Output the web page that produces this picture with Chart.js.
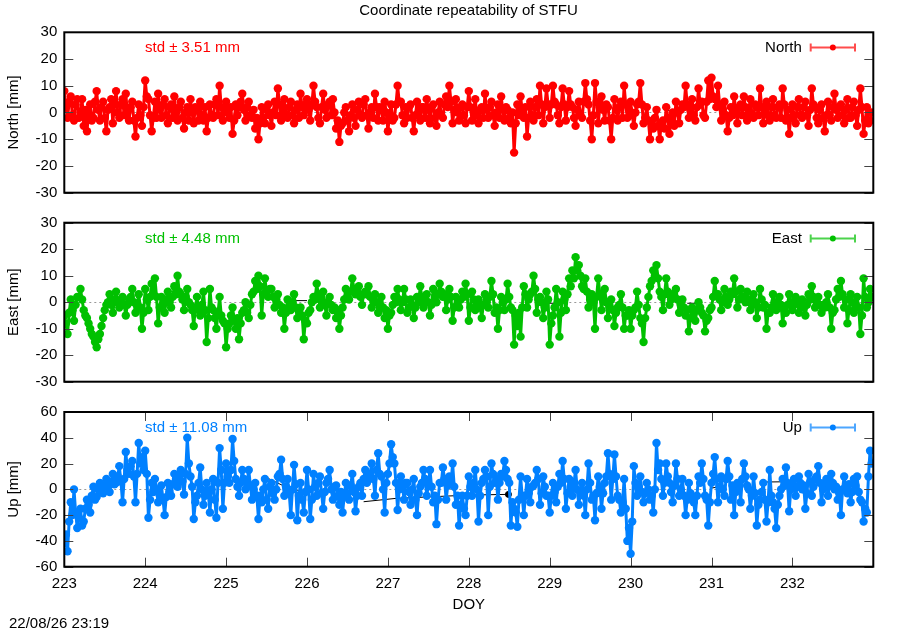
<!DOCTYPE html>
<html>
<head>
<meta charset="utf-8">
<title>Coordinate repeatability of STFU</title>
<script src="https://cdn.jsdelivr.net/npm/chart.js@4.4.1/dist/chart.umd.min.js"></script>
<style>
  body { margin: 0; background: #fff; }
  #wrap { position: relative; width: 900px; height: 630px; font-family: "Liberation Sans", Arial, sans-serif; font-size: 15px; color: #000; }
  #wrap canvas { position: absolute; left: 0; top: 0; }
  #title { position: absolute; left: 64px; width: 809px; top: 1px; text-align: center; line-height: 18px; }
  #stamp { position: absolute; left: 9px; top: 614px; line-height: 18px; }
</style>
</head>
<body>
<div id="wrap">
  <canvas id="north" width="900" height="630"></canvas>
  <canvas id="east" width="900" height="630"></canvas>
  <canvas id="up" width="900" height="630"></canvas>
  <div id="title">Coordinate repeatability of STFU</div>
  <div id="stamp">22/08/26 23:19</div>
</div>
<script>
// day of year for each row below; each row is one day of evenly spaced epochs
const days = [223, 224, 225, 226, 227, 228, 229, 230, 231, 232];
const stdMm = [3.51, 4.48, 11.08];

const northMm = [
  [8,2,-2,4,6,-1,-3,3,5,-2,0,5,-5,1,-7,-1,3,-3,-2,4,8,1,-3,2,4,-2,-7,1,2,5,-4,3,8,0,-2,3,5,-1,7,0,-3,2,4,-3,-9,-2,3,-1,-5,2],
  [12,6,5,-1,-7,-2,4,-2,7,1,-2,3,5,-1,-4,2,3,-2,6,0,-3,2,4,-2,-6,0,2,-3,5,0,-4,2,1,-3,4,-1,-3,2,-7,-2,3,-1,-2,3,5,-1,10,2,-3,1],
  [4,0,-2,2,-8,-3,3,-1,2,4,7,1,-3,2,4,-1,-2,1,-6,-2,-10,-4,2,-2,-4,1,3,-1,-5,0,4,-1,9,3,-3,1,5,-1,-2,2,4,-1,-4,1,3,-2,7,2,-1,3],
  [5,1,-3,3,10,4,2,-2,-4,2,7,1,-2,3,4,-1,5,0,-6,-3,-11,-5,-4,0,2,-3,-7,-1,3,-2,-5,1,4,-1,-2,3,5,-1,-6,0,2,-2,7,2,-3,2,1,-3,4,0],
  [-7,-1,3,-3,-2,3,10,4,4,-1,-4,2,-2,2,3,-2,-7,-1,4,0,-3,2,2,-2,5,1,-4,2,3,-2,-5,0,4,-1,-2,3,6,2,10,4,-4,1,5,0,-3,2,3,-1,-4,2],
  [8,2,-3,1,5,-1,-4,1,2,-2,7,1,-2,2,4,-1,-5,0,3,-2,6,1,-3,2,1,-2,-4,0,-15,-4,3,-1,6,1,-2,2,-9,-2,4,-1,-3,2,5,-1,10,3,-4,2,9,3],
  [-2,3,10,4,3,-1,-4,2,9,3,-3,2,8,3,2,-2,-5,1,4,-1,-2,4,11,5,3,-3,-10,-1,11,4,-4,2,6,1,-3,3,2,-3,-10,-2,5,1,-3,2,4,-2,10,3,-2,1],
  [4,-1,-5,0,3,4,11,3,-4,-2,2,-3,-10,-4,-6,-2,1,-5,-10,-4,-3,-6,2,-2,-8,-3,0,-5,4,0,-4,1,3,2,10,3,-2,1,5,-1,-3,2,9,3,4,-1,-2,4,12,5],
  [13,6,5,2,10,3,-3,1,4,-1,-7,-2,2,-1,6,1,-4,2,3,-1,6,2,-3,1,5,-1,-2,3,2,-1,9,2,-4,1,4,-1,-3,2,5,-1,-2,2,3,-2,9,3,-3,1,-8,-2],
  [3,-1,-4,2,5,-1,-2,2,4,-1,-5,1,9,3,2,-2,-4,1,3,-2,-7,-1,4,-1,-3,2,7,1,-2,2,3,-1,-4,1,5,-2,-2,2,4,-1,-5,1,9,2,-8,-3,2,-4,-3,0]
];

const eastMm = [
  [-5,-8,-12,-4,1,-3,-7,-1,2,2,5,1,-3,-5,-6,-8,-10,-12,-13,-15,-17,-14,-12,-9,-6,-3,-1,0,3,-1,-4,1,4,0,-2,1,2,-1,-5,-1,1,2,5,0,-4,-1,3,-2,-10,-4],
  [5,1,-3,2,7,3,9,2,-8,-2,2,-1,-4,1,4,0,-2,2,6,3,10,4,3,1,-3,2,5,0,-1,-3,-9,-2,2,-3,-5,-1,4,-3,-15,-6,5,-2,-3,-6,-10,-4,2,-5,-7,-8],
  [-17,-10,-8,-5,-2,-7,-10,-6,-14,-8,-4,-3,0,-4,-6,-1,3,4,8,5,10,6,-5,3,9,4,2,5,5,2,-2,1,3,-1,-4,-2,-10,-4,1,-3,-3,0,3,-2,-6,-3,-2,-5,-14,-7],
  [-8,-4,-3,0,2,1,7,3,-2,1,4,-1,-5,0,2,-1,-3,-2,-6,-3,-10,-5,-2,1,5,2,1,4,9,5,3,4,6,2,-1,3,4,3,6,2,-2,1,3,0,-4,-1,2,-2,-6,-3],
  [-10,-5,-4,-1,2,0,5,1,-3,0,5,1,-4,-2,1,-1,-6,-2,2,0,6,2,-2,1,3,0,-5,-1,5,2,0,3,7,4,2,3,-3,1,5,2,-7,-2,2,-1,-2,1,4,2,7,3],
  [-7,-2,4,1,-3,-1,1,-2,-6,-1,3,0,-2,2,8,3,-4,-2,-10,-3,2,0,-3,1,7,2,-2,-3,-16,-5,-9,-4,-13,-2,6,3,-2,1,3,4,10,5,-4,1,2,0,-6,-2,4,1],
  [-16,-8,-5,-2,5,0,-13,-4,4,1,-3,3,9,6,12,9,17,12,14,10,6,5,9,4,-2,1,3,0,-10,2,9,3,-3,1,5,0,-6,-2,1,-3,-9,-4,-2,-1,3,-2,-10,-5,-5,-3],
  [-10,-5,-3,-2,4,-1,-6,-8,-15,-6,-2,2,6,8,12,10,14,9,4,2,-3,3,9,4,-1,1,3,2,5,1,-4,-1,1,-2,-5,-3,-11,-6,-2,-4,-7,-3,0,-2,-4,-5,-11,-7,-6,-3],
  [-2,2,8,3,3,1,-3,0,5,2,-1,1,4,3,9,4,-2,1,5,2,1,0,4,1,-3,-1,3,0,-6,-2,5,1,-2,-1,-10,-4,-4,-2,3,0,-3,-1,2,-1,-8,-3,-4,-1,3,0],
  [-3,-1,2,0,-4,-1,1,-2,-5,-1,3,1,6,2,-2,0,2,-1,-4,-1,-2,0,3,-2,-10,-4,-3,1,5,2,8,3,-2,1,-8,-3,3,0,-4,-1,2,-2,-12,-5,9,2,-2,0,5,2]
];

const upMm = [
  [-42,-35,-48,-25,-10,-20,0,-18,-30,-22,-15,-28,-25,-15,-8,-12,-18,-5,2,-8,-6,0,5,-2,-3,3,8,2,-2,6,12,4,5,10,18,6,-10,8,29,15,12,18,22,10,-10,12,36,20,25,15],
  [30,12,-22,-8,5,-2,8,0,-10,-5,3,-8,-20,-6,5,-2,-5,4,12,8,2,10,15,6,-4,12,40,20,10,2,-23,-10,-5,5,17,0,-12,-5,5,-3,-18,0,8,-8,-22,5,32,15,-15,5],
  [20,10,5,15,39,22,8,2,-5,5,15,8,0,6,15,3,-8,0,5,-5,-23,-5,-10,0,8,-8,-15,2,5,-3,-8,0,10,12,23,8,-5,2,8,-3,-20,0,19,4,-24,-5,5,-8,-18,-2],
  [15,0,-23,-8,12,2,-5,5,10,-3,-15,-2,5,8,15,0,-8,2,3,-5,-12,-2,-18,-5,5,-3,-8,3,12,-2,-17,-5,2,5,-5,8,15,5,8,12,20,8,-5,15,28,12,10,0,-18,5],
  [12,20,35,25,20,5,-16,0,10,2,-8,5,5,-2,-12,0,8,-8,-20,-3,2,5,15,8,-5,3,15,2,-10,-5,-27,-8,5,5,17,8,-8,3,10,5,20,2,-12,-5,-28,-12,-5,-15,-20,-5],
  [10,2,-5,5,15,0,-25,-5,5,8,15,10,-20,2,20,12,5,8,-8,5,12,10,22,15,8,5,-28,-10,-15,-18,-29,-8,10,-5,-20,-5,8,-3,-10,2,3,5,15,8,-12,-3,10,2,-5,-5],
  [-18,-5,5,-2,-10,2,12,5,22,8,-15,-3,8,2,-5,5,15,0,-12,-2,5,-5,-20,0,20,5,-8,-5,-24,-3,10,2,-15,-3,5,10,28,12,-8,8,27,10,-5,-8,-18,-10,8,-15,-40,-30],
  [-50,-25,18,5,-5,2,10,-2,-10,-3,5,0,-8,-5,-18,0,36,15,20,8,-5,5,20,10,5,-2,-10,3,20,8,-5,0,8,-5,-20,-8,5,-3,-8,-10,-20,-5,10,5,20,8,-5,-8,-28,-10],
  [5,12,25,8,-10,2,10,0,-5,8,22,10,-8,3,-20,-2,5,5,-10,8,20,10,3,0,-15,-5,10,-3,-28,-12,-8,-2,5,-8,-25,-10,15,-5,-10,-15,-30,-12,-5,0,8,3,17,5,-17,0],
  [5,8,-5,2,10,5,0,3,-15,-3,12,6,-5,2,8,10,18,5,-10,0,5,8,-5,3,12,5,0,2,-8,-3,-20,0,10,2,-3,4,-10,-2,8,3,10,-2,-8,-10,-25,-15,-18,10,30,20]
];

// thin black reference track, mostly hidden under the coloured series (null = gap)
const northRefDoy = [228.2, 228.3, 228.4, 230.45, 230.55];
const northRefMm = [1, 1, null, 1, 0];
const eastRefDoy = [225.8, 226.0, 226.1, 228.84, 229.17, 229.3, 230.7, 230.85];
const eastRefMm = [0.6, 0.6, null, -0.4, -0.4, null, -0.4, -0.4];
const upRefDoy = [225.52, 225.7, 225.9, 226.05, 226.3, 226.7, 227.1, 228.02, 228.49, 228.6, 231.0, 231.1, 231.3, 231.65, 231.97];
const upRefMm = [8.5, 3, -1, -2, null, -9.6, -7, -4.4, -3.9, null, 1, 2, null, 5.7, 5.9];

const FONT = '"Liberation Sans", Arial, sans-serif';

function dailyPoints(rows) {
  const pts = [];
  rows.forEach((row, d) => {
    row.forEach((v, i) => pts.push({ x: days[d] + i / row.length, y: v }));
  });
  return pts;
}

function toPoints(xs, ys) {
  return xs.map((x, i) => ({ x: x, y: ys[i] }));
}

// zero line, inward tics, frame, std note and key in gnuplot style
const panelDecor = {
  id: 'panelDecor',
  beforeDatasetsDraw(chart) {
    const { ctx, chartArea: a } = chart;
    const y0 = Math.round(chart.scales.y.getPixelForValue(0)) + 0.5;
    ctx.save();
    ctx.strokeStyle = '#999';
    ctx.lineWidth = 1;
    ctx.setLineDash([2, 3]);
    ctx.beginPath();
    ctx.moveTo(a.left, y0);
    ctx.lineTo(a.right, y0);
    ctx.stroke();
    ctx.restore();
  },
  afterDraw(chart, args, opts) {
    const { ctx, chartArea: a, scales } = chart;
    ctx.save();
    ctx.strokeStyle = '#444';
    ctx.lineWidth = 1;
    ctx.beginPath();
    scales.y.ticks.forEach(t => {
      const py = Math.round(scales.y.getPixelForValue(t.value)) + 0.5;
      ctx.moveTo(a.left, py); ctx.lineTo(a.left + 9, py);
      ctx.moveTo(a.right, py); ctx.lineTo(a.right - 9, py);
    });
    if (opts.xTicks) {
      scales.x.ticks.forEach(t => {
        const px = Math.round(scales.x.getPixelForValue(t.value)) + 0.5;
        ctx.moveTo(px, a.bottom); ctx.lineTo(px, a.bottom - 9);
        ctx.moveTo(px, a.top); ctx.lineTo(px, a.top + 9);
      });
    }
    ctx.stroke();

    ctx.strokeStyle = '#000';
    ctx.lineWidth = 2;
    ctx.strokeRect(a.left, a.top, a.right - a.left, a.bottom - a.top);

    ctx.font = '15px ' + FONT;
    ctx.textBaseline = 'middle';
    ctx.fillStyle = opts.color;
    ctx.fillText('std \u00b1 ' + opts.std.toFixed(2) + ' mm', 145, a.top + 16);

    ctx.fillStyle = '#000';
    ctx.textAlign = 'right';
    ctx.fillText(opts.name, a.right - 71.5, a.top + 16);

    const x1 = a.right - 62.6, x2 = a.right - 18.3, ly = Math.round(a.top + 15) + 0.5;
    ctx.strokeStyle = opts.color;
    ctx.globalAlpha = 0.7;
    ctx.beginPath();
    ctx.moveTo(x1, ly); ctx.lineTo(x2, ly);
    ctx.moveTo(x1, ly - 4); ctx.lineTo(x1, ly + 4);
    ctx.moveTo(x2, ly - 4); ctx.lineTo(x2, ly + 4);
    ctx.stroke();
    ctx.globalAlpha = 1;
    ctx.fillStyle = opts.color;
    ctx.beginPath();
    ctx.arc((x1 + x2) / 2, ly, 3, 0, Math.PI * 2);
    ctx.fill();
    ctx.restore();
  }
};

function makePanel(id, cfg) {
  const font = { family: FONT, size: 15 };
  const xAxis = {
    type: 'linear',
    min: 223,
    max: 233,
    display: cfg.showX,
    grid: { display: false, drawTicks: false },
    border: { display: false },
    ticks: {
      stepSize: 1,
      padding: 8,
      font: font,
      color: '#000',
      callback: v => (v >= 233 ? '' : v)
    },
    title: { display: true, text: 'DOY', font: font, color: '#000', padding: 0 }
  };
  if (cfg.showX) xAxis.afterFit = s => { s.height = 47.3; };

  return new Chart(document.getElementById(id), {
    type: 'line',
    data: {
      datasets: [
        {
          data: dailyPoints(cfg.values),
          borderColor: cfg.color,
          backgroundColor: cfg.color,
          borderWidth: 3,
          borderJoinStyle: 'round',
          borderCapStyle: 'round',
          pointRadius: 4.2,
          pointBorderWidth: 0,
          tension: 0
        },
        {
          data: toPoints(cfg.refDoy, cfg.refMm),
          borderColor: '#000',
          backgroundColor: '#000',
          borderWidth: 1,
          pointRadius: cfg.refDot || 0,
          spanGaps: false
        }
      ]
    },
    options: {
      responsive: false,
      animation: false,
      devicePixelRatio: 1,
      events: [],
      layout: { padding: { left: 5.3, right: 26.7, top: cfg.top, bottom: cfg.bottom } },
      scales: {
        x: xAxis,
        y: {
          min: -cfg.range,
          max: cfg.range,
          grid: { display: false, drawTicks: false },
          border: { display: false },
          ticks: { stepSize: cfg.step, autoSkip: false, padding: 7, font: font, color: '#000' },
          title: { display: true, text: cfg.label, font: font, color: '#000', padding: 0 },
          afterFit: s => { s.width = 59; }
        }
      },
      plugins: {
        legend: { display: false },
        tooltip: { enabled: false },
        panelDecor: { color: cfg.color, std: cfg.std, name: cfg.name, xTicks: cfg.showX }
      }
    },
    plugins: [panelDecor]
  });
}

makePanel('north', {
  values: northMm, refDoy: northRefDoy, refMm: northRefMm,
  color: '#ff0000', name: 'North', label: 'North [mm]', std: stdMm[0],
  range: 30, step: 10, top: 32.3, bottom: 437.3, showX: false
});

makePanel('east', {
  values: eastMm, refDoy: eastRefDoy, refMm: eastRefMm,
  color: '#00c000', name: 'East', label: 'East [mm]', std: stdMm[1],
  range: 30, step: 10, top: 222.7, bottom: 248.3, showX: false
});

makePanel('up', {
  values: upMm, refDoy: upRefDoy, refMm: upRefMm,
  refDot: upRefDoy.map(d => (d === 228.49 ? 3 : 0)),
  color: '#0080ff', name: 'Up', label: 'Up [mm]', std: stdMm[2],
  range: 60, step: 20, top: 412, bottom: 16, showX: true
});
</script>
</body>
</html>
